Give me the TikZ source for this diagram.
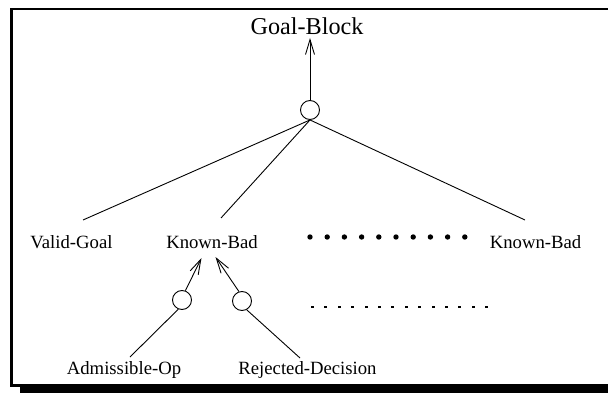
\documentclass[tikz,border=0pt]{standalone}
\usepackage{fontspec}
\setmainfont{Liberation Serif}
\usetikzlibrary{arrows.meta}
\begin{document}
\begin{tikzpicture}[x=1pt,y=-1pt,
  lbl/.style={anchor=base,inner sep=0pt,font=\fontsize{18.7}{22}\selectfont},
  goal/.style={anchor=base,inner sep=0pt,font=\fontsize{24.2}{28}\selectfont},
  andnode/.style={circle,draw,line width=0.9pt,minimum size=19pt,inner sep=0pt},
  link/.style={line width=0.9pt},
  uparrow/.style={line width=0.9pt,-{Straight Barb[length=15pt,width=9pt]}},
  frameline/.style={line width=2.8pt}
]
\useasboundingbox (0,0) rectangle (608,393);
\clip (0,0) rectangle (608,393);

% frame with a drop shadow along the bottom
\fill (20,385) rectangle (640,400);
\draw[frameline] (11.5,9) rectangle (640,385.5);

% text labels
\node[goal] (gb) at (307,35) {Goal-Block};
\node[lbl] (vg) at (71.5,248) {Valid-Goal};
\node[lbl] (kb) at (212,248) {Known-Bad};
\node[lbl] (kbr) at (535.5,248) {Known-Bad};
\node[lbl] (adm) at (124,374) {Admissible-Op};
\node[lbl] (rej) at (307.5,374) {Rejected-Decision};

% and-nodes
\node[andnode] (c0) at (310,110) {};
\node[andnode] (c1) at (182,300) {};
\node[andnode] (c2) at (242,301) {};

% connector end points next to the labels
\coordinate (gbin) at (310,38);
\coordinate (vgin) at (83,220);
\coordinate (kbin) at (221,218);
\coordinate (kbrin) at (525,220);
\coordinate (kbla) at (201.5,258);
\coordinate (kblb) at (215.5,257);
\coordinate (admin) at (130,357);
\coordinate (rejin) at (300,358);

% connectors
\draw[uparrow] (c0.north) -- (gbin);
\draw[link] (c0.south) -- (vgin);
\draw[link] (c0.south) -- (kbin);
\draw[link] (c0.south) -- (kbrin);
\draw[uparrow] (c1.70) -- (kbla);
\draw[uparrow] (c2.108) -- (kblb);
\draw[link] (c1.-112) -- (admin);
\draw[link] (c2.-62) -- (rejin);

% rows of dots for the omitted entries
\foreach \i in {0,...,9}
  \fill (310+\i*17.2,237) circle (2.7);
\foreach \i in {0,...,13}
  \fill (311+\i*13.4,305.8) rectangle ++(3,2.4);
\end{tikzpicture}
\end{document}
